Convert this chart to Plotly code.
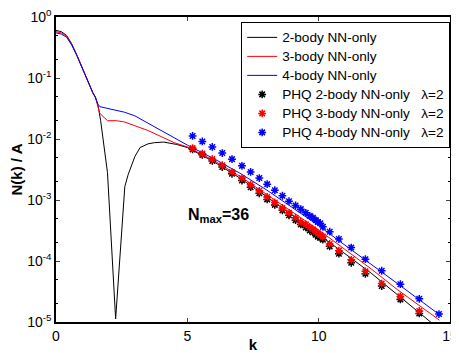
import numpy as np
import plotly.graph_objects as go

# ---- data (y values as log10 exponents) ----
k_black = [0, 0.2, 0.4, 0.6, 0.8, 1.0, 1.2, 1.4, 1.5, 1.6, 1.7, 1.8, 1.9, 1.96, 2.27, 2.62, 2.75, 2.9, 3.0,
           3.2, 3.5, 3.75, 4.1, 4.6, 5, 6, 7, 8, 9, 10, 11, 12, 13, 14, 14.6]
log_black = [-0.22, -0.24, -0.30, -0.44, -0.63, -0.84, -1.06, -1.24, -1.31, -1.45, -1.70, -2.0, -2.33, -2.55,
             -4.95, -2.78, -2.58, -2.40, -2.29, -2.14, -2.08, -2.06, -2.05, -2.09, -2.14, -2.37, -2.64, -2.94,
             -3.25, -3.56, -3.88, -4.20, -4.55, -4.90, -5.12]

k_red = [0, 0.2, 0.4, 0.6, 0.8, 1.0, 1.2, 1.4, 1.5, 1.6, 1.67, 1.96, 2.3, 2.6, 3.0, 3.5, 4.0, 4.5,
         5, 6, 7, 8, 9, 10, 11, 12, 13, 14, 14.6]
log_red = [-0.24, -0.26, -0.31, -0.45, -0.63, -0.84, -1.06, -1.24, -1.32, -1.48, -1.58, -1.70, -1.70, -1.72,
           -1.78, -1.86, -1.96, -2.06, -2.13, -2.35, -2.61, -2.90, -3.19, -3.49, -3.81, -4.13, -4.47, -4.79, -4.97]

k_blue = [0, 0.2, 0.4, 0.6, 0.8, 1.0, 1.2, 1.4, 1.5, 1.6, 1.67, 2.0, 2.28, 2.6, 3.0, 3.5, 4.0, 4.5,
          5, 6, 7, 8, 9, 10, 11, 12, 13, 14, 14.6]
log_blue = [-0.26, -0.28, -0.33, -0.46, -0.64, -0.84, -1.06, -1.24, -1.32, -1.43, -1.47, -1.50, -1.52, -1.56,
            -1.62, -1.74, -1.87, -1.99, -2.10, -2.32, -2.56, -2.83, -3.12, -3.42, -3.74, -4.05, -4.37, -4.69, -4.88]

k_phq = [5.2, 5.57, 5.95, 6.33, 6.7, 7.08, 7.41, 7.74, 8.04, 8.33, 8.62, 8.87, 9.12, 9.32, 9.51, 9.66, 9.78,
         9.89, 9.97, 10.06, 10.16, 10.42, 10.77, 11.24, 11.78, 12.40, 13.11, 13.83, 14.58]
log_phq_black = [-2.17, -2.26, -2.36, -2.46, -2.57, -2.68, -2.79, -2.89, -2.99, -3.08, -3.17, -3.25, -3.33,
                 -3.40, -3.45, -3.50, -3.53, -3.57, -3.60, -3.62, -3.65, -3.76, -3.88, -4.03, -4.21, -4.41,
                 -4.63, -4.86]
log_phq_red = [-2.15, -2.24, -2.33, -2.43, -2.54, -2.64, -2.75, -2.85, -2.95, -3.04, -3.13, -3.21, -3.29,
               -3.36, -3.40, -3.45, -3.48, -3.52, -3.55, -3.57, -3.60, -3.72, -3.83, -3.98, -4.17, -4.37,
               -4.58, -4.82]
log_phq_blue = [-1.95, -2.04, -2.13, -2.23, -2.33, -2.44, -2.54, -2.64, -2.74, -2.84, -2.93, -3.02, -3.09,
                -3.15, -3.21, -3.26, -3.29, -3.33, -3.36, -3.38, -3.44, -3.52, -3.64, -3.78, -3.97, -4.16,
                -4.38, -4.62, -4.87]

y_tickvals = [1e-5, 1e-4, 1e-3, 1e-2, 1e-1, 1]
y_ticktext = ["10<sup>-5</sup>", "10<sup>-4</sup>", "10<sup>-3</sup>", "10<sup>-2</sup>", "10<sup>-1</sup>",
              "10<sup>0</sup>"]
x_tickvals = [0, 5, 10, 15]

NB = "\u00a0"
line_names = ["2-body NN-only", "3-body NN-only", "4-body NN-only"]
phq_names = ["PHQ 2-body NN-only" + NB * 3 + "λ=2", "PHQ 3-body NN-only" + NB * 3 + "λ=2",
             "PHQ 4-body NN-only" + NB * 3 + "λ=2"]
colors = ["#000000", "#ff0000", "#0000ff"]


def big(t):
    return '<span style="font-size:13.6px">' + t + '</span>'


fig = go.Figure()
for kk, ll, name, c in zip([k_black, k_red, k_blue], [log_black, log_red, log_blue], line_names, colors):
    fig.add_trace(go.Scatter(x=kk, y=np.power(10.0, ll), mode="lines", name=big(name),
                             line=dict(color=c, width=1)))

phq_sets = [(k_phq[:len(log_phq_black)], log_phq_black), (k_phq[:len(log_phq_red)], log_phq_red),
            (k_phq, log_phq_blue)]
for (kk, ll), name, c in zip(phq_sets, phq_names, colors):
    fig.add_trace(go.Scatter(x=kk, y=np.power(10.0, ll), mode="markers", name=big(name),
                             marker=dict(symbol="asterisk-open", size=6.5, color=c,
                                         line=dict(color=c, width=1.5))))

fig.add_annotation(x=6.17, y=-3.25, xref="x", yref="y", text="<b>N<sub>max</sub>=36</b>",
                   showarrow=False, font=dict(size=16, color="black"))

fig.update_xaxes(range=[0, 15], tickvals=x_tickvals, ticks="inside", ticklen=4, showline=True,
                 linecolor="black", linewidth=1.5, mirror="allticks", showgrid=False, zeroline=False,
                 automargin=False, ticklabeloverflow="allow",
                 title=dict(text="<b>k</b>", standoff=2, font=dict(size=15)),
                 tickfont=dict(size=14))
fig.update_yaxes(type="log", range=[-5, 0], tickvals=y_tickvals, ticktext=y_ticktext, ticks="inside",
                 ticklen=4, showline=True, linecolor="black", linewidth=1.5, mirror="allticks",
                 showgrid=False, zeroline=False, automargin=False, ticklabeloverflow="allow",
                 minor=dict(ticks="inside", ticklen=2, tickcolor="black", showgrid=False),
                 title=dict(text="<b>N(k) / A</b>", standoff=4, font=dict(size=15)),
                 tickfont=dict(size=14))

# the page places the figure 8px in from the top-left corner
fig.update_layout(
    width=451, height=345,
    margin=dict(l=48, r=9, t=9, b=31),
    paper_bgcolor="white", plot_bgcolor="white",
    font=dict(family="Liberation Sans, Arial, sans-serif", color="black"),
    legend=dict(x=0.47, y=0.984, xanchor="left", yanchor="top", bgcolor="white",
                bordercolor="black", borderwidth=1, font=dict(size=11.2), tracegroupgap=0,
                itemwidth=30),
)

fig.write_html("out.html")
